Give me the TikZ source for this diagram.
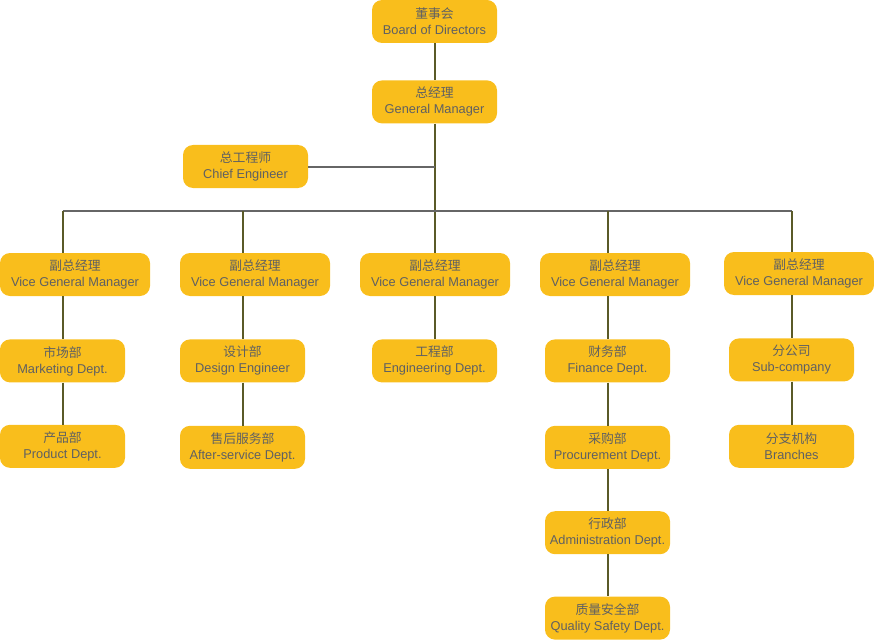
\documentclass[tikz,border=0pt]{standalone}
\usepackage{fontspec}
\setmainfont{Liberation Sans}
\newfontfamily\cjk{Noto Sans CJK SC}
\usetikzlibrary{positioning}
\definecolor{boxfill}{HTML}{F9BE1C}
\definecolor{boxtext}{HTML}{5F6062}
\definecolor{vline}{HTML}{5A5A28}
\definecolor{hline}{HTML}{666666}
\newcommand{\lbl}[2]{{\cjk #1}\\#2}

\begin{document}
\begin{tikzpicture}[x=1pt, y=1pt, node distance=43pt,
                        unit/.style={rectangle,rounded corners=10pt,fill=boxfill,text=boxtext,
                        minimum width=125pt,minimum height=43pt,inner sep=0pt,align=center,
                        font=\fontsize{12.8}{16}\selectfont},
                        vgm/.style={unit,minimum width=150pt},
                        link/.style={draw=vline,line width=2pt},
                        hlink/.style={draw=hline,line width=2pt}
                        ]
    \useasboundingbox (0,0) rectangle (874,-639);
    \node (bod) [unit] at (434.5,-21.5) {\lbl{董事会}{Board of Directors}};
    \node (gm) [unit,below=37pt of bod] {\lbl{总经理}{General Manager}};
    \node (ce) [unit] at (245.5,-166.5) {\lbl{总工程师}{Chief Engineer}};
    \node (vgm1) [vgm] at (75,-274.5) {\lbl{副总经理}{Vice General Manager}};
    \node (vgm2) [vgm] at (255,-274.5) {\lbl{副总经理}{Vice General Manager}};
    \node (vgm3) [vgm] at (435,-274.5) {\lbl{副总经理}{Vice General Manager}};
    \node (vgm4) [vgm] at (615,-274.5) {\lbl{副总经理}{Vice General Manager}};
    \node (vgm5) [vgm] at (799,-273.5) {\lbl{副总经理}{Vice General Manager}};
    \node (mkt) [unit,below=of vgm1,xshift=-12.5pt] {\lbl{市场部}{Marketing Dept.}};
    \node (prod) [unit,below=42pt of mkt] {\lbl{产品部}{Product Dept.}};
    \node (design) [unit,below=of vgm2,xshift=-12.5pt] {\lbl{设计部}{Design Engineer}};
    \node (after) [unit,below=of design] {\lbl{售后服务部}{After-service Dept.}};
    \node (eng) [unit,below=of vgm3,xshift=-0.5pt] {\lbl{工程部}{Engineering Dept.}};
    \node (fin) [unit,below=of vgm4,xshift=-7.5pt] {\lbl{财务部}{Finance Dept.}};
    \node (proc) [unit,below=of fin] {\lbl{采购部}{Procurement Dept.}};
    \node (admin) [unit,below=42pt of proc] {\lbl{行政部}{Administration Dept.}};
    \node (qual) [unit,below=42pt of admin] {\lbl{质量安全部}{Quality Safety Dept.}};
    \node (sub) [unit,below=of vgm5,xshift=-7.5pt] {\lbl{分公司}{Sub-company}};
    \node (branch) [unit,below=of sub] {\lbl{分支机构}{Branches}};
    \coordinate (bus) at (434.5,-211);
    % top of the tree
    \draw[link] (bod) -- (gm);
    \draw[link] (gm.south) -- (bus);
    \draw[link] (bus) -- (vgm3.north -| bus);
    \draw[hlink] (ce.east) -- (ce -| gm);
    \draw[hlink] (bus -| mkt) -- (bus -| sub);
    % columns
    \draw[link] (bus -| mkt) -- (vgm1.north -| mkt);
    \draw[link] (vgm1.south -| mkt) -- (mkt);
    \draw[link] (mkt) -- (prod);
    \draw[link] (bus -| design) -- (vgm2.north -| design);
    \draw[link] (vgm2.south -| design) -- (design);
    \draw[link] (design) -- (after);
    \draw[link] (vgm3.south -| eng) -- (eng);
    \draw[link] (bus -| fin) -- (vgm4.north -| fin);
    \draw[link] (vgm4.south -| fin) -- (fin);
    \draw[link] (fin) -- (proc);
    \draw[link] (proc) -- (admin);
    \draw[link] (admin) -- (qual);
    \draw[link] (bus -| sub) -- (vgm5.north -| sub);
    \draw[link] (vgm5.south -| sub) -- (sub);
    \draw[link] (sub) -- (branch);
\end{tikzpicture}
\end{document}
